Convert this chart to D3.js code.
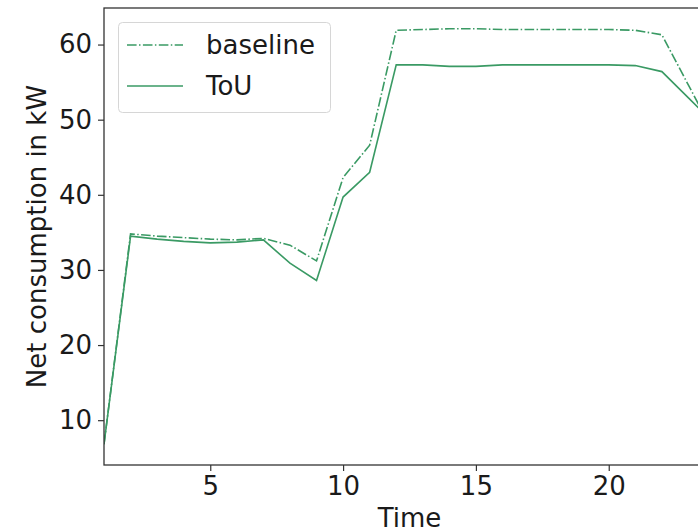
<!DOCTYPE html>
<meta charset="utf-8">
<html>
  <head>
    <title>Net consumption</title>
    <script src="https://d3js.org/d3.v7.min.js"></script>
    <style>
      body { margin: 0; background: white; }
      text { font-family: "DejaVu Sans", sans-serif; fill: #1a1a1a; }
    </style>
  </head>

  <body>
    <div id="chart"></div>

    <script type="text/javascript">

        // Data
        var time = [1, 2, 3, 4, 5, 6, 7, 8, 9, 10, 11, 12, 13, 14, 15, 16, 17, 18, 19, 20, 21, 22, 23, 24];
        var baseline = [6.8, 34.8, 34.5, 34.3, 34.1, 34.0, 34.2, 33.3, 31.2, 42.3, 46.6, 61.9, 62.0, 62.1, 62.1, 62.0, 62.0, 62.0, 62.0, 62.0, 61.9, 61.3, 54.6, 47.9];
        var tou = [6.8, 34.5, 34.1, 33.8, 33.6, 33.7, 34.0, 30.9, 28.6, 39.7, 43.0, 57.3, 57.3, 57.1, 57.1, 57.3, 57.3, 57.3, 57.3, 57.3, 57.2, 56.4, 52.9, 49.4];
        var x_ticks = [5, 10, 15, 20];
        var y_ticks = [10, 20, 30, 40, 50, 60];
        var series_names = ["baseline", "ToU"];

        var total_width = 698,
            total_height = 532,
            plot = {left: 104, right: 715, top: 8, bottom: 465},
            line_color = "#3a9a64",
            font_size = 26;

        var svg = d3.select("#chart").append("svg")
            .attr("width", total_width)
            .attr("height", total_height);

        // Scales, y gets matplotlib style 5% margins
        var all_vals = baseline.concat(tou);
        var y_min = d3.min(all_vals), y_max = d3.max(all_vals);
        var pad = (y_max - y_min) * 0.05;

        var x_scale = d3.scaleLinear()
            .domain([1, 24])
            .range([plot.left, plot.right]);
        var y_scale = d3.scaleLinear()
            .domain([y_min - pad, y_max + pad])
            .range([plot.bottom, plot.top]);

        svg.append("clipPath").attr("id", "clip")
            .append("rect")
            .attr("x", plot.left)
            .attr("y", plot.top)
            .attr("width", plot.right - plot.left)
            .attr("height", plot.bottom - plot.top);

        // Lines
        var line = d3.line()
            .x(function(d, i){ return x_scale(time[i]); })
            .y(function(d){ return y_scale(d); });

        var lines_g = svg.append("g").attr("clip-path", "url(#clip)");

        lines_g.append("path")
            .attr("d", line(baseline))
            .attr("fill", "none")
            .attr("stroke", line_color)
            .attr("stroke-width", 1.6)
            .attr("stroke-dasharray", "9.6,2.4,1.5,2.4");

        lines_g.append("path")
            .attr("d", line(tou))
            .attr("fill", "none")
            .attr("stroke", line_color)
            .attr("stroke-width", 1.6);

        // Axes
        var x_axis = d3.axisBottom(x_scale).tickValues(x_ticks).tickSize(6).tickPadding(6);
        var y_axis = d3.axisLeft(y_scale).tickValues(y_ticks).tickSize(6).tickPadding(6);

        var gx = svg.append("g")
            .attr("transform", "translate(0," + plot.bottom + ")")
            .call(x_axis);
        var gy = svg.append("g")
            .attr("transform", "translate(" + plot.left + ",0)")
            .call(y_axis);

        [gx, gy].forEach(function(g){
            g.select(".domain").remove();
            g.selectAll(".tick line").attr("stroke", "#333").attr("stroke-width", 1.2);
            g.selectAll(".tick text")
                .style("font-family", "DejaVu Sans")
                .style("font-size", font_size + "px")
                .attr("fill", "#1a1a1a");
        });

        // Spines (right one falls outside the picture)
        svg.append("rect")
            .attr("x", plot.left)
            .attr("y", plot.top)
            .attr("width", plot.right - plot.left)
            .attr("height", plot.bottom - plot.top)
            .attr("fill", "none")
            .attr("stroke", "#333")
            .attr("stroke-width", 1.3);

        // Axis labels
        svg.append("text")
            .attr("x", (plot.left + plot.right) / 2)
            .attr("y", 527)
            .attr("text-anchor", "middle")
            .style("font-size", font_size + "px")
            .text("Time");

        svg.append("text")
            .attr("transform", "translate(46," + ((plot.top + plot.bottom) / 2) + ") rotate(-90)")
            .attr("text-anchor", "middle")
            .style("font-size", font_size + "px")
            .text("Net consumption in kW");

        // Legend
        var legend = svg.append("g");
        legend.append("rect")
            .attr("x", 118.5)
            .attr("y", 22.5)
            .attr("width", 212)
            .attr("height", 90)
            .attr("rx", 4)
            .attr("fill", "white")
            .attr("fill-opacity", 0.8)
            .attr("stroke", "#d6d6d6")
            .attr("stroke-width", 1);

        var items = legend.selectAll(".item")
            .data(series_names)
            .enter().append("g")
            .attr("transform", function(d, i){ return "translate(0," + (45 + i * 41) + ")"; });

        items.append("line")
            .attr("x1", 127)
            .attr("x2", 183)
            .attr("stroke", line_color)
            .attr("stroke-width", 1.6)
            .attr("stroke-dasharray", function(d, i){ return i == 0 ? "9.6,2.4,1.5,2.4" : null; });

        items.append("text")
            .attr("x", 206)
            .attr("y", 9)
            .style("font-size", font_size + "px")
            .text(function(d){ return d; });

    </script>
  </body>
</html>
